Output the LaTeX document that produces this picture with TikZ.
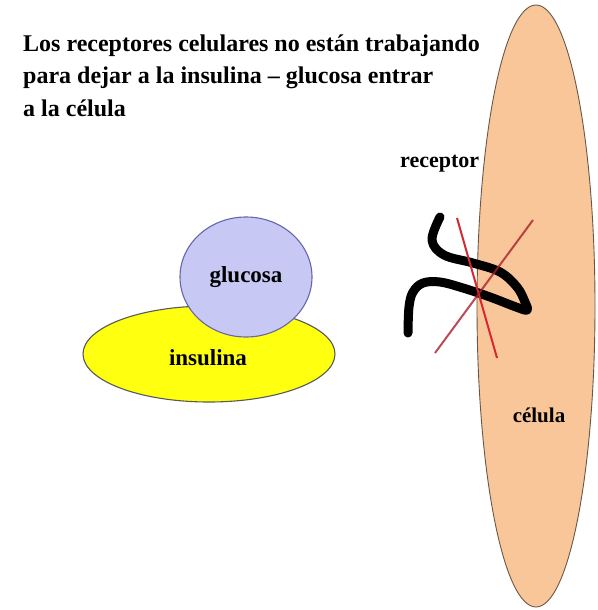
\documentclass[tikz,border=0pt]{standalone}
\usepackage{fontspec}
\setmainfont{Liberation Serif}
\usetikzlibrary{shapes.geometric}

\definecolor{piel}{RGB}{249,198,154}
\definecolor{borde}{RGB}{105,88,72}
\definecolor{lila}{RGB}{200,200,244}
\definecolor{amarillo}{RGB}{255,255,16}
\definecolor{rojo}{RGB}{214,40,48}
\definecolor{granate}{RGB}{168,32,44}

\begin{document}
\begin{tikzpicture}[x=1pt,y=-1pt,
    blob/.style={ellipse,draw,line width=1.1pt,inner sep=0pt},
    titulo/.style={anchor=base west,inner sep=0pt,font=\fontsize{24}{32}\selectfont\bfseries},
    etiqueta/.style={inner sep=0pt,font=\fontsize{23}{26}\selectfont\bfseries}]
  \useasboundingbox[fill=white] (0,0) rectangle (597,610);

  \node[titulo] (t1) at (23,52)  {Los receptores celulares no están trabajando};
  \node[titulo] (t2) at (23,84)  {para dejar a la insulina -- glucosa entrar};
  \node[titulo] (t3) at (23,116) {a la célula};

  % la célula
  \node[blob,draw=borde,fill=piel,line width=0.9pt,minimum width=118,minimum height=602] (cell) at (536,306) {};
  \node[etiqueta,font=\fontsize{21}{24}\selectfont\bfseries] (celula) at (539,415) {célula};

  % insulina con la glucosa encima
  \node[blob,draw=black!65,fill=amarillo,minimum width=252,minimum height=96] (insulina) at (209,354) {};
  \node[etiqueta] (insulinalbl) at (208,358) {insulina};
  \node[blob,etiqueta,draw=black!55!blue!60,fill=lila,minimum width=132,minimum height=120] (glucosa) at (246,277) {glucosa};

  % receptor
  \draw[line width=9pt,line cap=round,line join=round] plot[smooth,tension=0.6] coordinates
    {(440,217) (432,240) (444,255) (473,263) (500,272) (517,287) (525,302) (527,310)
     (516,307) (490,297) (463,288) (440,282) (423,283) (413,292) (409,307) (408,333)};
  \draw[rojo,line width=2pt] (457,218) -- (497,358);
  \draw[granate,line width=2pt,opacity=0.8] (533,220) -- (435,353);

  \node[anchor=base west,inner sep=0pt,font=\fontsize{22}{24}\selectfont\bfseries] (receptor) at (400,167) {receptor};
\end{tikzpicture}
\end{document}
